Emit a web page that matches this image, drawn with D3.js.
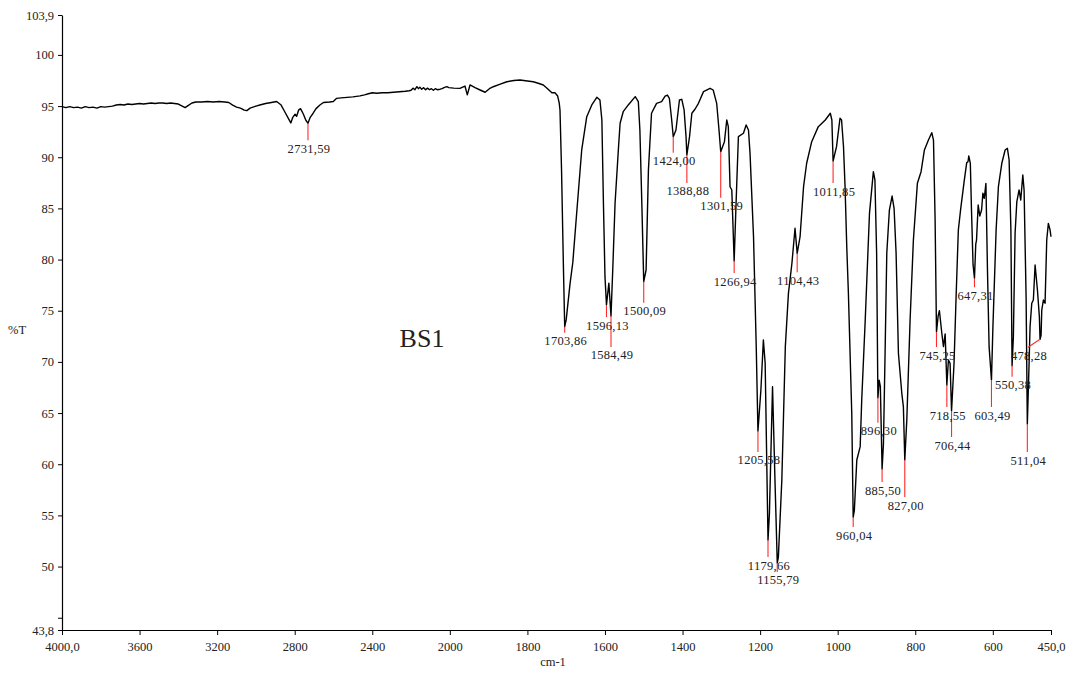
<!DOCTYPE html>
<html>
<head>
<meta charset="utf-8">
<script src="https://cdn.jsdelivr.net/npm/d3@7/dist/d3.min.js"></script>
<style>
  html, body { margin: 0; padding: 0; background: #ffffff; }
  svg { display: block; }
  text { font-family: "Liberation Serif", "Times New Roman", serif; fill: #222; }
</style>
</head>
<body>
<svg id="chart" width="1078" height="673"></svg>
<script>
// IR spectrum of sample BS1: wavenumber (cm-1) and transmittance (%T)
const wavenumbers = [
  4000,3980,3960,3940,3920,3900,3880,3860,3840,3820,3800,3780,3760,3740,3720,3700,3680,3660,3640,3620,
  3600,3580,3560,3540,3520,3500,3480,3460,3440,3420,3400,3380,3365,3350,3330,3310,3280,3250,3220,3190,
  3160,3140,3120,3100,3080,3060,3047,3030,3000,2980,2950,2920,2893,2870,2850,2830,2820,2810,2798,2790,
  2780,2770,2755,2742,2731.59,2720,2705,2690,2670,2652,2620,2601,2585,2560,2530,2500,2463,2440,2420,2400,
  2377,2350,2320,2291,2260,2230,2210,2200,2190,2180,2170,2162,2155,2145,2135,2125,2115,2105,2095,2085,
  2075,2065,2050,2040,2030,2016,2005,
  1990,1974,1961,1955,1948,1935,1922,1909,1898,1888,1870,1853,1835,1819,1800,1785,1772,1759,1748,1737,
  1729,1722,1718,1716,1712,1707,1703.86,1700,1690,1683,1673,1660,1647,1634,1621,1613,1608,1604,1600,1596.13,
  1590,1584.49,1580,1574,1565,1561,1553,1540,1522,1514,1510,1505,1500.09,1494,1488,1480,1467,1454,1445,1439,
  1434,1428,1424.00,1417,1408,1402,1396,1391,1388.88,1382,1376,1368,1359,1346,1329,1321,1312,1306,1301.59,1292,
  1286,1282,1277.5,1273,1266.94,1262,1256,1243,1236,1230,1226,1217,1210,1205.58,1198,1191.6,1187,1179.66,1176,1168,
  1161.7,1155.79,1153,1144,1135,1127,1118,1110,1104.43,1097,1088,1080,1067,1050,1032,1019,1015,1011.85,1003,994,
  990,985,981,976.6,972.4,963.7,960.04,957,950.7,942,938,929,918,908,904,899.6,896.30,893,890,885.50,
  882,877.8,873.4,866.7,859.7,854.6,849.4,843.4,834.7,830.6,827.00,821.8,813.3,804.8,794.5,785,776.4,766,757.4,753,
  748.8,745.25,741,737.7,731.5,727.3,722.9,718.55,714.5,710.2,706.44,700,694.7,688.9,682.7,674,667.3,664,662,658,
  655,651,647.31,644,642,637.8,633.6,629,625.6,622,617.8,613.8,609.6,603.49,600,591.5,585.6,576.8,568.3,562.4,
  558,553.4,550.38,547,542.6,538.1,532.3,528,522.7,519.4,514.2,511.04,506.5,504,499.6,495.5,491,485,480,478.28,
  475.6,473.8,469.6,465.3,461,456.8,452.4,450
];
const transmittance = [
  94.95,94.85,94.95,94.85,94.9,94.8,94.95,94.85,94.9,94.8,94.95,94.9,94.95,95.0,95.1,95.15,95.1,95.2,95.15,95.2,
  95.25,95.2,95.25,95.3,95.25,95.3,95.3,95.25,95.3,95.25,95.2,95.0,94.85,95.05,95.3,95.4,95.4,95.45,95.4,95.45,
  95.4,95.35,95.1,94.9,94.8,94.6,94.55,94.8,95.0,95.1,95.25,95.35,95.45,95.1,94.4,93.7,93.35,93.9,94.2,94.0,
  94.6,94.75,94.2,93.6,93.32,93.9,94.3,94.75,95.1,95.35,95.4,95.45,95.75,95.8,95.85,95.9,96.0,96.1,96.2,96.3,
  96.25,96.3,96.3,96.35,96.4,96.45,96.5,96.55,96.75,96.6,96.9,96.7,96.85,96.65,96.8,96.6,96.75,96.6,96.7,96.55,
  96.7,96.6,96.65,96.7,96.8,96.9,96.8,
  96.75,96.73,96.96,96.1,97.06,96.8,96.57,96.35,96.7,96.89,97.15,97.38,97.5,97.55,97.45,97.38,97.23,97.06,96.7,96.3,
  96.3,95.98,95.3,94.62,88.75,78.98,73.44,74.1,77.68,79.7,84.52,90.71,93.96,95.11,95.86,95.59,93.64,85.5,78.33,75.56,
  77.7,74.49,78.98,85.5,91.04,93.32,94.45,95.11,95.92,95.43,92.66,85.5,77.84,78.98,88.75,94.3,95.27,95.43,95.98,96.08,
  95.76,93.64,92.01,92.66,95.59,95.66,94.62,92.01,90.22,92.01,94.3,94.69,95.27,96.41,96.74,96.57,95.27,92.66,90.54,91.52,
  93.64,92.99,87.12,86.8,79.86,85.5,92.01,92.34,93.15,92.66,90.38,82.23,71.49,63.25,67.25,72.14,69.86,52.59,55.2,67.58,
  58.46,50.35,50.9,58.46,71.49,76.7,79.64,83.06,80.61,82.23,87.12,89.41,91.52,92.99,93.64,94.3,93.64,89.63,91.03,93.81,
  93.64,91.03,87.12,81.26,76.7,64.98,54.84,55.5,60.41,61.72,66.28,74.1,84.52,88.59,87.78,80.61,66.5,68.2,67.6,59.53,
  62.0,70.84,80.61,84.84,86.21,85.01,80.61,70.84,66.93,65.62,60.41,64.32,74.1,81.91,87.45,88.59,90.71,91.68,92.4,91.68,
  83.87,72.92,74.5,75.0,72.8,71.49,72.73,67.74,70.19,69.86,65.2,69.86,76.37,82.89,85.01,87.61,89.47,89.56,90.12,89.41,
  84.84,79.5,78.17,81.5,81.91,85.33,84.26,84.84,86.48,85.99,87.45,78.98,71.49,68.23,73.12,82.89,87.12,89.41,90.71,90.87,
  89.73,82.89,69.63,72.46,82.57,85.66,86.8,85.82,88.26,86.8,76.37,63.93,69.86,73.44,75.73,76.05,79.47,77.03,74.42,72.21,
  72.6,75.07,76.05,75.73,81.91,83.54,82.89,82.23
];

// Picked peaks: position (cm-1) and %T at the band minimum
const peakWavenumbers = [2731.59,1703.86,1596.13,1584.49,1500.09,1424.00,1388.88,1301.59,1266.94,1104.43,1011.85,
  1205.58,1179.66,1155.79,960.04,896.30,885.50,827.00,745.25,718.55,706.44,647.31,603.49,550.38,511.04,478.28];
const peakTransmittance = [93.32,73.44,75.56,74.49,77.84,92.01,90.22,90.54,79.86,80.61,89.63,
  63.25,52.59,50.35,54.84,66.5,59.53,60.41,72.92,67.74,65.2,78.17,68.23,69.63,63.93,72.21];

// Axis ticks
const xTickValues = [4000,3600,3200,2800,2400,2000,1800,1600,1400,1200,1000,800,600,450];
const xTickLabels = ["4000,0","3600","3200","2800","2400","2000","1800","1600","1400","1200","1000","800","600","450,0"];
const yTickValues = [103.9,100,95,90,85,80,75,70,65,60,55,50,45,43.8];
const yTickLabels = ["103,9","100","95","90","85","80","75","70","65","60","55","50","","43,8"];

const sampleName = "BS1";
const xTitle = "cm-1";
const yTitle = "%T";

// ---- layout ----
const plotLeft = 62, plotRight = 1051, plotTop = 15, plotBottom = 630;
// length (px) of each peak marker below the band minimum
const markerDrop = [17,6,12,31,21,16,28,46,12,19,22,21,17,9,10,25,13,37,15,22,26,9,27,11,28,8];
const markerShift = peakWavenumbers.map(w => w === 478.28 ? -12 : 0);

const svg = d3.select("#chart");

// wavenumber axis changes scale at 2000 cm-1 (expanded fingerprint region)
const x = d3.scaleLinear()
  .domain([4000, 2000, 450])
  .range([plotLeft, plotLeft + (plotRight - plotLeft) * (1000 / 2550), plotRight]);
const y = d3.scaleLinear().domain([43.8, 103.9]).range([plotBottom, plotTop]);

const fmt = v => v.toFixed(2).replace(".", ",");

// axes
const xAxis = d3.axisBottom(x)
  .tickValues(xTickValues)
  .tickFormat((d, i) => xTickLabels[i])
  .tickSizeInner(5).tickSizeOuter(0).tickPadding(7);
const yAxis = d3.axisLeft(y)
  .tickValues(yTickValues)
  .tickFormat((d, i) => yTickLabels[i])
  .tickSizeInner(4).tickSizeOuter(0).tickPadding(4);

const gx = svg.append("g").attr("transform", `translate(0,${plotBottom})`).call(xAxis);
const gy = svg.append("g").attr("transform", `translate(${plotLeft},0)`).call(yAxis);
[gx, gy].forEach(g => {
  g.attr("font-family", null);
  g.selectAll("path.domain").attr("stroke", "#000").attr("stroke-width", 1.2);
  g.selectAll(".tick line").attr("stroke", "#000").attr("stroke-width", 1);
  g.selectAll(".tick text")
    .attr("font-size", 12.5).attr("fill", "#222");
});

// axis titles
svg.append("text").attr("x", 553).attr("y", 666).attr("text-anchor", "middle")
  .attr("font-size", 12.5).text(xTitle);
svg.append("text").attr("x", 8).attr("y", 334).attr("text-anchor", "start")
  .attr("font-size", 12.5).text(yTitle);

// sample name
svg.append("text").attr("x", 422).attr("y", 347).attr("text-anchor", "middle")
  .attr("font-size", 26).attr("fill", "#111").text(sampleName);

// spectrum trace
const points = wavenumbers.map((w, i) => [w, transmittance[i]]);
const line = d3.line().x(d => x(d[0])).y(d => y(d[1])).curve(d3.curveLinear);
svg.append("path")
  .datum(points)
  .attr("d", line)
  .attr("fill", "none")
  .attr("stroke", "#000")
  .attr("stroke-width", 1.4)
  .attr("stroke-linejoin", "round");

// peak markers and labels
const peaks = peakWavenumbers.map((w, i) => ({ w, t: peakTransmittance[i], drop: markerDrop[i], shift: markerShift[i] }));
const pg = svg.append("g");
pg.selectAll("line").data(peaks).join("line")
  .attr("x1", d => x(d.w)).attr("y1", d => y(d.t))
  .attr("x2", d => x(d.w) + d.shift).attr("y2", d => y(d.t) + d.drop)
  .attr("stroke", "#ff2a2a").attr("stroke-width", 1.1);
pg.selectAll("text").data(peaks).join("text")
  .attr("x", d => x(d.w) + d.shift + 1)
  .attr("y", d => y(d.t) + d.drop + 12.5)
  .attr("text-anchor", "middle")
  .attr("font-size", 12.5)
  .attr("letter-spacing", 0.3)
  .attr("fill", "#2a2a2a")
  .text(d => fmt(d.w));
</script>
</body>
</html>
